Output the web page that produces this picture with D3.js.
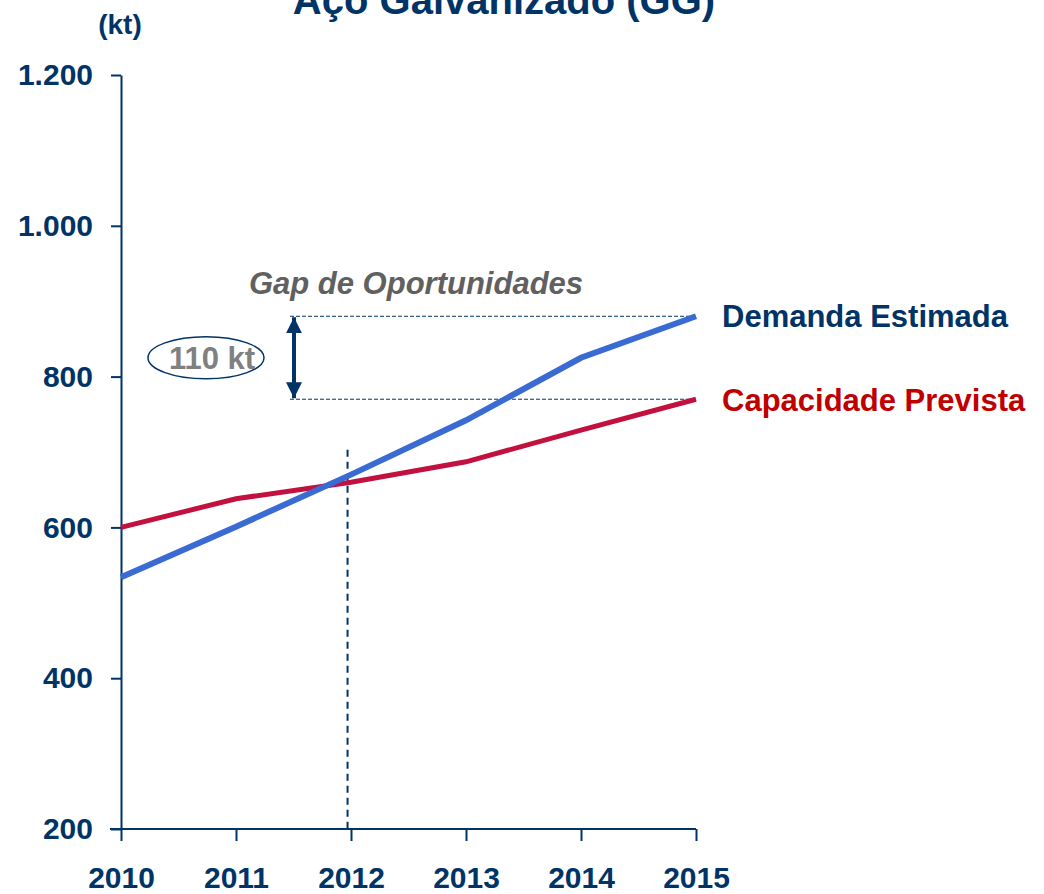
<!DOCTYPE html>
<html>
<head>
<meta charset="utf-8">
<script src="https://cdn.jsdelivr.net/npm/d3@7"></script>
<style>
  body { margin: 0; background: #fff; }
  text { font-family: "Liberation Sans", Arial, sans-serif; font-weight: bold; }
</style>
</head>
<body>
<svg id="chart" width="1044" height="894"></svg>
<script>
// dados
var years = [2010, 2011, 2012, 2013, 2014, 2015]
var demanda = [534, 601, 670, 742, 825, 880]
var capacidade = [600, 638, 660, 687, 729, 770]
var yTicks = [200, 400, 600, 800, 1000, 1200]
var gapTop = 880, gapBottom = 770
var crossYear = 2011.97, crossTop = 703

var navy = "#003366"

var svg = d3.select('#chart')

var xScale = d3.scaleLinear()
    .domain([2010, 2015])
    .range([121, 696])

var yScale = d3.scaleLinear()
    .domain([200, 1200])
    .range([829, 75])

// titulo (cortado no topo, como no original)
svg.append("text")
    .attr("x", 504).attr("y", 14)
    .attr("text-anchor", "middle")
    .attr("fill", navy)
    .style("font-size", "40px")
    .text("Aço Galvanizado (GG)")

svg.append("text")
    .attr("x", 120).attr("y", 34)
    .attr("text-anchor", "middle")
    .attr("fill", navy)
    .style("font-size", "28px")
    .text("(kt)")

// eixo y
var yAxis = svg.append('g')
    .attr("transform", "translate(121,0)")
    .call(d3.axisLeft(yScale).tickValues(yTicks).tickSize(10).tickSizeOuter(0)
        .tickFormat(d => d3.format(",")(d).replace(",", ".")))
yAxis.select(".domain").attr("stroke", navy).attr("stroke-width", 2)
yAxis.selectAll(".tick line").attr("stroke", navy).attr("stroke-width", 2)
yAxis.selectAll("text")
    .attr("fill", navy)
    .attr("x", -28)
    .style("font-size", "30px")

// eixo x
var xAxis = svg.append('g')
    .attr("transform", "translate(0,829)")
    .call(d3.axisBottom(xScale).tickValues(years).tickSize(12).tickSizeOuter(0).tickFormat(d3.format("d")))
xAxis.select(".domain").attr("stroke", navy).attr("stroke-width", 2).attr("d", "M110,0H696")
xAxis.selectAll(".tick line").attr("stroke", navy).attr("stroke-width", 2)
xAxis.selectAll("text")
    .attr("fill", navy)
    .attr("y", 59)
    .attr("dy", 0)
    .style("font-size", "30px")

// linha vertical tracejada no cruzamento
svg.append("line")
    .attr("x1", xScale(crossYear)).attr("x2", xScale(crossYear))
    .attr("y1", yScale(crossTop)).attr("y2", yScale(200))
    .attr("stroke", navy).attr("stroke-width", 2)
    .attr("stroke-dasharray", "7,5")

// linhas horizontais do gap
;[gapTop, gapBottom].forEach(function (v) {
    svg.append("line")
        .attr("x1", 290).attr("x2", xScale(2015))
        .attr("y1", yScale(v)).attr("y2", yScale(v))
        .attr("stroke", navy).attr("stroke-width", 1)
        .attr("stroke-dasharray", "4,2")
})

var line = d3.line()
    .x((d, i) => xScale(years[i]))
    .y(d => yScale(d))

svg.append("path")
    .datum(capacidade)
    .attr("d", line)
    .attr("fill", "none")
    .attr("stroke", "#C2103F")
    .attr("stroke-width", 5)

svg.append("path")
    .datum(demanda)
    .attr("d", line)
    .attr("fill", "none")
    .attr("stroke", "#3A6BD3")
    .attr("stroke-width", 6)

// seta do gap
var defs = svg.append("defs")
defs.append("marker").attr("id", "ah")
    .attr("viewBox", "0 0 10 10").attr("refX", 10).attr("refY", 5)
    .attr("markerWidth", 4).attr("markerHeight", 4).attr("orient", "auto-start-reverse")
    .attr("markerUnits", "strokeWidth")
    .append("path").attr("d", "M0,0L10,5L0,10z").attr("fill", navy)

svg.append("line")
    .attr("x1", 294).attr("x2", 294)
    .attr("y1", yScale(gapTop) + 1).attr("y2", yScale(gapBottom) - 1)
    .attr("stroke", navy).attr("stroke-width", 4)
    .attr("marker-start", "url(#ah)")
    .attr("marker-end", "url(#ah)")

// rotulo 110 kt
var midY = yScale((gapTop + gapBottom) / 2)
svg.append("ellipse")
    .attr("cx", 206).attr("cy", midY)
    .attr("rx", 58).attr("ry", 21)
    .attr("fill", "none").attr("stroke", navy).attr("stroke-width", 1.5)

svg.append("text")
    .attr("x", 212).attr("y", midY + 11)
    .attr("text-anchor", "middle")
    .attr("fill", "#808080")
    .style("font-size", "31px")
    .text((gapTop - gapBottom) + " kt")

svg.append("text")
    .attr("x", 416).attr("y", 294)
    .attr("text-anchor", "middle")
    .attr("fill", "#606060")
    .style("font-size", "31px")
    .style("font-style", "italic")
    .text("Gap de Oportunidades")

// legendas das series
svg.append("text")
    .attr("x", 722).attr("y", 327)
    .attr("fill", navy)
    .style("font-size", "31px")
    .text("Demanda Estimada")

svg.append("text")
    .attr("x", 722).attr("y", 411)
    .attr("fill", "#C00000")
    .style("font-size", "31px")
    .text("Capacidade Prevista")
</script>
</body>
</html>
